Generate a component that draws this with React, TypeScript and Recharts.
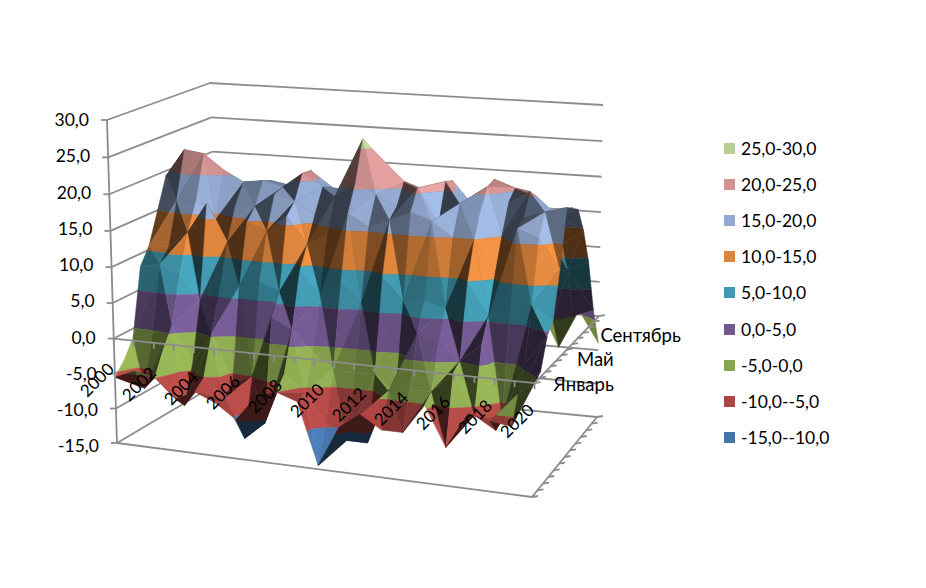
import React from "react";
import { ScatterChart, Scatter, XAxis, YAxis, Legend } from "recharts";

const years = Array.from({ length: 21 }, (_, i) => String(2000 + i));
const jan = [-5.5, -4.3, -4.9, -7.6, -6.3, -7.5, -9.5, -6, -5, -6, -14.5, -8.8, -6.7, -8.5, -8.5, -4.5, -9.8, -5, -5.6, -6, 0];
const feb = [-3.8, -7.5, -1.6, -9.3, -5, -7.7, -13, -10.5, -3.2, -5.6, -9.5, -11.5, -11.5, -4, -3.5, -3.5, -0.7, -6, -7.7, -2.5, 0.7];
const mar = [-1.3, -0.5, 1.1, -4.1, 0.5, -6.2, -5, 3.5, 2.2, -0.8, -2.7, -3, -2.8, -5.3, 3.3, 2.5, 0.2, 2.7, -6.9, 0.7, 4.5];
const apr = [8.2, 8.8, 7.7, 4.3, 6, 6.7, 7.5, 6.5, 9.4, 6.5, 8.3, 6, 9.5, 6.8, 7, 6.3, 9.7, 5.7, 7.1, 7.7, 6];
const may = [10.6, 10.6, 12.9, 17.2, 12, 14.9, 14, 16.2, 12.6, 14.2, 17.2, 15.6, 16.8, 18, 17, 15, 15, 10.8, 16.9, 15.8, 12];
const jun = [15, 16.6, 16.8, 14.4, 16.5, 16.6, 18.5, 17.7, 16.1, 18.8, 20.8, 19.5, 18, 20.7, 16, 19, 18.5, 15.2, 17.7, 18.7, 19.5];
const jul = [19.3, 23.2, 22.8, 20.7, 19.2, 19.6, 18.9, 21, 19.3, 19.2, 26.2, 23.5, 20.8, 19.6, 21.2, 18.9, 20.9, 19, 20.6, 18, 18.8];
const aug = [17.2, 18.9, 18.7, 17.8, 18.5, 19, 18.5, 20.8, 18.8, 17, 24.5, 19.5, 18.5, 18.9, 20.7, 17.5, 21.3, 20.3, 19.4, 17, 18];
const sep = [10.6, 12.7, 13.3, 11.8, 13, 14, 13.5, 13, 12.4, 14.4, 12.7, 13.5, 13.5, 11.6, 13.4, 14.5, 12, 13.8, 15, 12.3, 14.5];
const oct = [5.7, 6.5, 3.4, 6.4, 6.3, 6.7, 6.5, 6.8, 9, 7.7, 6, 7.3, 8, 6.3, 5, 4.6, 4.7, 5.4, 7.8, 8, 9.5];
const nov = [0.9, -1.3, -3.5, 2.1, -0.7, 1.4, 1, -0.5, 2.2, 2.4, 2.4, 0.2, 2, 3.5, -1.4, 1, -1.9, 1.3, -0.2, 0.7, 1.8];
const dec = [-2, -9, -11.2, -1.8, -1.5, -3.2, 1, -2.2, -0.7, -7.2, -7.6, 0.3, -7, -0.5, -3, 0.3, -3.3, 0.7, -5.1, 0.6, -4];
const monthRows = [jan, feb, mar, apr, may, jun, jul, aug, sep, oct, nov, dec];

const valueTicks = [30, 25, 20, 15, 10, 5, 0, -5, -10, -15];
const bandLows = [25, 20, 15, 10, 5, 0, -5, -10, -15];
const bandColors = ["#B9CD96", "#D19392", "#93A9CF", "#DB843D", "#4198AF", "#71588F", "#89A54E", "#AA4643", "#4572A7"];
const bandNames = ["25,0-30,0", "20,0-25,0", "15,0-20,0", "10,0-15,0", "5,0-10,0", "0,0-5,0", "-5,0-0,0", "-10,0--5,0", "-15,0--10,0"];
const depthLabels = [["Январь", 0], ["Май", 4], ["Сентябрь", 8]] as [string, number][];

const WIDTH = 926;
const HEIGHT = 588;
const AXIS_W = 100;
const Y_TOP = 46.55;
const Y_BOTTOM = -34.55;
const FONT = "Lato, 'Open Sans', sans-serif";
const GRID = "#8C8C8C";

const lerp = (a: number, b: number, t: number) => a + (b - a) * t;
const toValue = (py: number) => Y_TOP - (py / HEIGHT) * (Y_TOP - Y_BOTTOM);

// box corners of the 3D frame: [u][v][bottom/top]
const FL = [[117, 443], [107, 120]];
const FR = [[532, 497], [540, 145]];
const BL = [[222, 381], [210, 83]];
const BR = [[597, 417], [603, 105]];

function project(u: number, v: number, z: number): [number, number] {
  const t0 = (z + 15) / 45;
  const t = t0 - 0.045 * t0 * (1 - t0);
  const at = (k: number, c: number) => lerp(lerp(FL[k][c], FR[k][c], u), lerp(BL[k][c], BR[k][c], u), v);
  return [lerp(at(0, 0), at(1, 0), t), lerp(at(0, 1), at(1, 1), t)];
}
const uOf = (i: number) => {
  const u = i / 20;
  return u - 0.015 * Math.sin(Math.PI * u);
};
const vOf = (j: number) => j / 11;

type V = { i: number; j: number; z: number };

function clipBand(poly: V[], lo: number, hi: number): V[] {
  const clip = (p: V[], inside: (a: V) => boolean, lim: number) => {
    const out: V[] = [];
    for (let k = 0; k < p.length; k++) {
      const a = p[k];
      const b = p[(k + 1) % p.length];
      const ia = inside(a);
      const ib = inside(b);
      if (ia) out.push(a);
      if (ia !== ib) {
        const t = (lim - a.z) / (b.z - a.z);
        out.push({ i: lerp(a.i, b.i, t), j: lerp(a.j, b.j, t), z: lim });
      }
    }
    return out;
  };
  const p1 = clip(poly, (a) => a.z >= lo, lo);
  if (p1.length < 3) return [];
  const p2 = clip(p1, (a) => a.z <= hi, hi);
  return p2.length < 3 ? [] : p2;
}

function shade(hex: string, b: number) {
  const n = parseInt(hex.slice(1), 16);
  const c = [(n >> 16) & 255, (n >> 8) & 255, n & 255].map((x) => Math.min(255, Math.round(x * b)));
  return `rgb(${c[0]},${c[1]},${c[2]})`;
}

function brightness(a: V, b: V, c: V) {
  const sx = 1, sy = 1.82, sz = 0.35;
  const e1 = [(b.i - a.i) * sx, (b.j - a.j) * sy, (b.z - a.z) * sz];
  const e2 = [(c.i - a.i) * sx, (c.j - a.j) * sy, (c.z - a.z) * sz];
  let n = [e1[1] * e2[2] - e1[2] * e2[1], e1[2] * e2[0] - e1[0] * e2[2], e1[0] * e2[1] - e1[1] * e2[0]];
  const len = Math.hypot(n[0], n[1], n[2]) || 1;
  n = n.map((x) => x / len);
  if (n[2] < 0) n = n.map((x) => -x);
  return Math.max(0.36, Math.min(1.45, 0.27 + 0.7 * n[0] - 0.3 * n[1] + 0.4 * n[2]));
}

type Piece = { x: number; y: number; rel: number[][]; fill?: string; text?: string; kind?: string };

function makePiece(points: number[][], fill?: string): Piece {
  const cx = points.reduce((s, p) => s + p[0], 0) / points.length;
  const cy = points.reduce((s, p) => s + p[1], 0) / points.length;
  return { x: cx, y: toValue(cy), rel: points.map((p) => [p[0] - cx, p[1] - cy]), fill };
}

function buildFaces() {
  const faces: Piece[] = [];
  const vert = (i: number, j: number): V => ({ i, j, z: monthRows[j][i] });
  for (let j = 10; j >= 0; j--) {
    for (let i = 0; i < 20; i++) {
      const a = vert(i, j), b = vert(i + 1, j), c = vert(i + 1, j + 1), d = vert(i, j + 1);
      const tris = (i + j) % 2 === 0 ? [[a, d, c], [a, c, b]] : [[a, d, b], [b, d, c]];
      for (const tri of tris) {
        const br = brightness(tri[0], tri[1], tri[2]);
        bandLows.forEach((lo, k) => {
          const poly = clipBand(tri, lo, lo + 5);
          if (!poly.length) return;
          faces.push(makePiece(poly.map((p) => project(uOf(p.i), vOf(p.j), p.z)), shade(bandColors[k], br)));
        });
      }
    }
  }
  return faces;
}

function seg(a: number[], b: number[]) {
  return makePiece([a, b]);
}

function buildBackLines() {
  const out: Piece[] = [];
  valueTicks.forEach((z) => {
    out.push(seg(project(0, 0, z), project(0, 1, z)));
    out.push(seg(project(0, 1, z), project(1, 1, z)));
  });
  out.push(seg(project(0, 0, -15), project(1, 0, -15)));
  out.push(seg(project(1, 0, -15), project(1, 1, -15)));
  for (let j = 0; j <= 12; j++) {
    const p = project(1, j / 12, -15);
    out.push(seg(p, [p[0] + 6, p[1] - 1]));
  }
  return out;
}

function buildFrontLines() {
  const out: Piece[] = [];
  out.push(seg(project(0, 0, 30), project(0, 0, -15)));
  valueTicks.forEach((z) => {
    const p = project(0, 0, z);
    out.push(seg([p[0] - 6, p[1]], p));
  });
  out.push(seg(project(0, 0, 0), project(1, 0, 0)));
  out.push(seg(project(1, 0, 0), project(1, 1, 0)));
  for (let i = 0; i <= 21; i++) {
    const p = project(i / 21, 0, 0);
    out.push(seg(p, [p[0], p[1] + 6]));
  }
  for (let j = 0; j <= 12; j++) {
    const p = project(1, j / 12, 0);
    out.push(seg(p, [p[0] + 6, p[1] - 1]));
  }
  return out;
}

const faces = buildFaces();
const backLines = buildBackLines();
const frontLines = buildFrontLines();

const yearLabels: Piece[] = years
  .map((text, i) => ({ text, i }))
  .filter((d) => d.i % 2 === 0)
  .map((d) => ({ x: 111 + d.i * 21, y: toValue(366 + d.i * 2.05), rel: [], text: d.text, kind: "year" }));

const monthLabels: Piece[] = depthLabels.map(([text, j]) => {
  const p = project(1, j / 11, 0);
  return { x: p[0] + 19, y: toValue(p[1] + 1), rel: [], text, kind: "month" };
});

const FaceShape = (props: any) => {
  const { cx, cy, payload } = props;
  const pts = payload.rel.map((p: number[]) => `${cx + p[0]},${cy + p[1]}`).join(" ");
  return <polygon points={pts} fill={payload.fill} stroke={payload.fill} strokeWidth={0.5} strokeLinejoin="round" />;
};

const LineShape = (props: any) => {
  const { cx, cy, payload } = props;
  const [a, b] = payload.rel;
  return <line x1={cx + a[0]} y1={cy + a[1]} x2={cx + b[0]} y2={cy + b[1]} stroke={GRID} strokeWidth={1.8} />;
};

const TextShape = (props: any) => {
  const { cx, cy, payload } = props;
  if (payload.kind === "year") {
    return (
      <text x={cx} y={cy} dy="0.35em" textAnchor="end" fontFamily={FONT} fontSize={17} fill="#000" transform={`rotate(-45 ${cx} ${cy})`}>
        {payload.text}
      </text>
    );
  }
  return (
    <text x={cx} y={cy} dy="0.35em" textAnchor="start" fontFamily={FONT} fontSize={18.5} fill="#000">
      {payload.text}
    </text>
  );
};

const ValueTick = (props: any) => {
  const { y, payload } = props;
  const v = payload.value as number;
  return (
    <text x={89 + ((30 - v) / 45) * 10} y={y} dy="0.35em" textAnchor="end" fontFamily={FONT} fontSize={17.5} fill="#000">
      {v.toFixed(1).replace(".", ",")}
    </text>
  );
};

const LegendBox = () => (
  <div style={{ position: "absolute", left: 0, top: 0, width: 0, height: 0, pointerEvents: "none" }}>
    {bandNames.map((name, k) => (
      <div key={name} style={{ position: "absolute", left: 724, top: 148.5 + k * 36.1 - 11, height: 22, display: "flex", alignItems: "center", whiteSpace: "nowrap" }}>
        <span style={{ width: 11, height: 11, background: bandColors[k], display: "inline-block", marginRight: 6 }} />
        <span style={{ fontFamily: FONT, fontSize: 17.5, color: "#000" }}>{name}</span>
      </div>
    ))}
  </div>
);

export default function App() {
  return (
    <div style={{ position: "absolute", left: 0, top: 0, width: WIDTH, height: HEIGHT, background: "#fff" }}>
      <ScatterChart width={WIDTH} height={HEIGHT} margin={{ top: 0, right: 0, bottom: 0, left: 0 }}>
        <XAxis type="number" dataKey="x" domain={[AXIS_W, WIDTH]} hide />
        <YAxis
          type="number"
          dataKey="y"
          width={AXIS_W}
          domain={[Y_BOTTOM, Y_TOP]}
          ticks={valueTicks}
          tick={ValueTick}
          tickLine={false}
          axisLine={false}
          interval={0}
        />
        <Legend content={LegendBox} wrapperStyle={{ left: 0, top: 0, bottom: "auto", width: 0, height: 0 }} />
        <Scatter name="Сетка" data={backLines} shape={LineShape} isAnimationActive={false} />
        <Scatter name="Поверхность" data={faces} shape={FaceShape} isAnimationActive={false} />
        <Scatter name="Оси" data={frontLines} shape={LineShape} isAnimationActive={false} />
        <Scatter name="Подписи" data={[...yearLabels, ...monthLabels]} shape={TextShape} isAnimationActive={false} />
      </ScatterChart>
    </div>
  );
}
